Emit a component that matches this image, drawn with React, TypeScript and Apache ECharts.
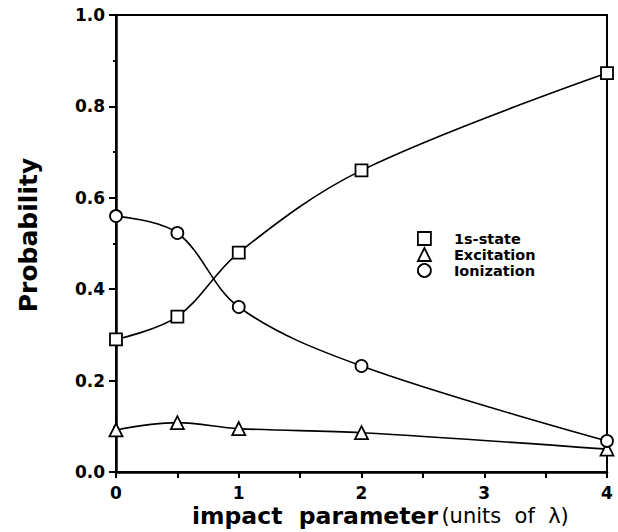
import React, { useEffect, useRef } from "react";
import * as echarts from "echarts";

// Impact parameter (units of λ)
const impactParameter = [0, 0.5, 1, 2, 4];
// Probabilities for each final channel
const groundState = [0.29, 0.34, 0.48, 0.66, 0.873];
const excitation = [0.092, 0.108, 0.095, 0.086, 0.05];
const ionization = [0.56, 0.523, 0.361, 0.232, 0.068];

const seriesNames = ["1s-state", "Excitation", "Ionization"];
const seriesSymbols = ["rect", "triangle", "circle"];
const seriesValues = [groundState, excitation, ionization];

const FONT = "DejaVu Sans";

export default function App() {
  const ref = useRef<HTMLDivElement>(null);

  useEffect(() => {
    if (!ref.current) return;
    document.body.style.margin = "0";
    const chart = echarts.init(ref.current, undefined, { renderer: "svg" });

    const series = seriesNames.map((name, i) => ({
      name,
      type: "line",
      smooth: 0.35,
      symbol: seriesSymbols[i],
      symbolSize: i === 1 ? 13 : 12,
      showAllSymbol: true,
      data: impactParameter.map((x, j) => [x, seriesValues[i][j]]),
      lineStyle: { color: "#000", width: 1.6 },
      itemStyle: { color: "#fff", borderColor: "#000", borderWidth: 1.8 },
      z: 3,
    }));

    chart.setOption({
      animation: false,
      backgroundColor: "#fff",
      grid: {
        left: 116,
        right: 11,
        top: 15,
        bottom: 60,
        show: true,
        borderColor: "#000",
        borderWidth: 2,
        backgroundColor: "transparent",
      },
      legend: {
        orient: "vertical",
        left: 412,
        top: 226,
        itemWidth: 13,
        itemHeight: 13,
        itemGap: 1,
        selectedMode: false,
        data: seriesNames.map((name, i) => ({
          name,
          icon: seriesSymbols[i],
          itemStyle: { color: "#fff", borderColor: "#000", borderWidth: 1.8 },
        })),
        textStyle: {
          fontFamily: FONT,
          fontWeight: "bold",
          fontSize: 14.5,
          color: "#000",
          lineHeight: 15,
          padding: [0, 0, 0, 18],
        },
      },
      xAxis: {
        type: "value",
        min: 0,
        max: 4,
        interval: 1,
        axisLine: { show: true, lineStyle: { color: "#000", width: 2.5 } },
        axisTick: { show: true, length: 6, lineStyle: { color: "#000", width: 2 } },
        minorTick: { show: true, splitNumber: 2, length: 6, lineStyle: { color: "#000", width: 2 } },
        splitLine: { show: false },
        axisLabel: {
          margin: 12,
          fontFamily: FONT,
          fontWeight: "bold",
          fontSize: 17,
          color: "#000",
        },
      },
      yAxis: {
        type: "value",
        min: 0,
        max: 1,
        interval: 0.2,
        axisLine: { show: true, lineStyle: { color: "#000", width: 2.5 } },
        axisTick: { show: true, length: 7, lineStyle: { color: "#000", width: 2 } },
        minorTick: { show: true, splitNumber: 2, length: 3, lineStyle: { color: "#000", width: 2 } },
        splitLine: { show: false },
        axisLabel: {
          margin: 11,
          fontFamily: FONT,
          fontWeight: "bold",
          fontSize: 17,
          color: "#000",
          formatter: (v: number) => v.toFixed(1),
        },
      },
      graphic: [
        {
          type: "text",
          x: 28,
          y: 235,
          rotation: Math.PI / 2,
          style: {
            text: "Probability",
            font: `bold 25px "${FONT}"`,
            fill: "#000",
            align: "center",
            verticalAlign: "middle",
          },
        },
        {
          type: "text",
          left: 192,
          top: 504,
          style: {
            text: "{b|impact  parameter} {r|(units  of  λ)}",
            rich: {
              b: { fontFamily: FONT, fontWeight: "bold", fontSize: 23.5, fill: "#000" },
              r: { fontFamily: FONT, fontWeight: "normal", fontSize: 21, fill: "#000" },
            },
          },
        },
      ],
      series,
    });

    return () => chart.dispose();
  }, []);

  return <div ref={ref} style={{ width: 618, height: 532 }} />;
}
